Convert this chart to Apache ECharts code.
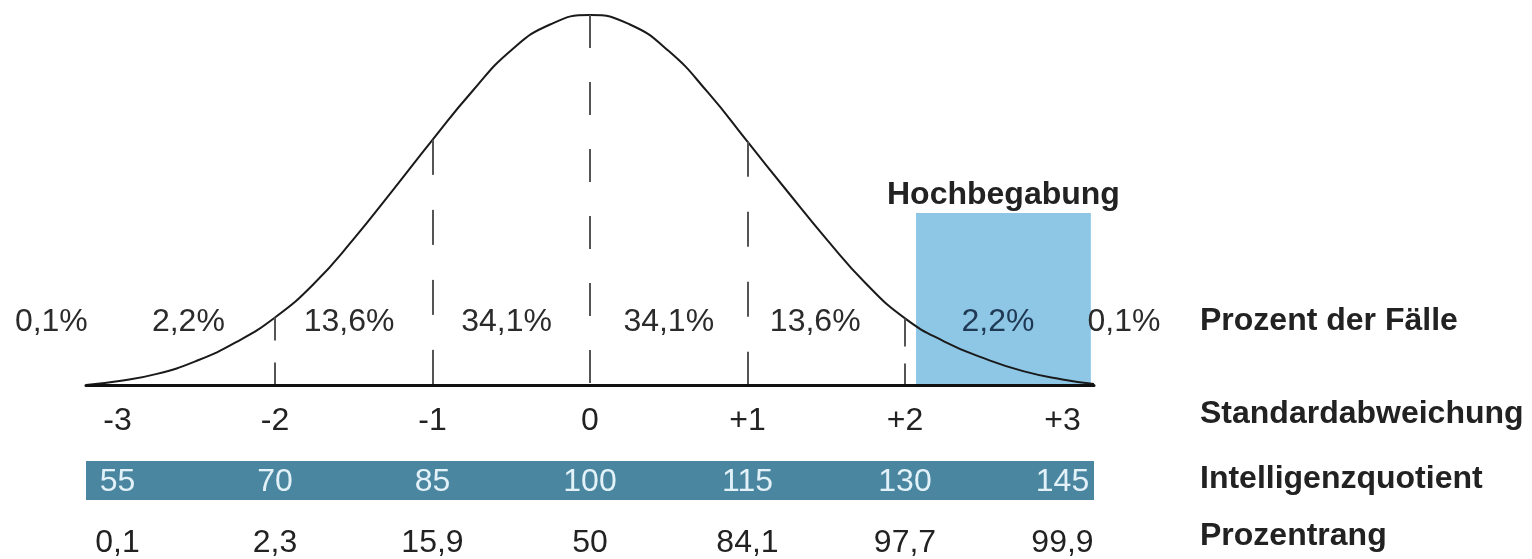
<!DOCTYPE html>
<html>
<head>
<meta charset="utf-8">
<script src="https://cdn.jsdelivr.net/npm/echarts@6/dist/echarts.min.js"></script>
<style>
  html, body { margin: 0; padding: 0; background: #ffffff; }
  #chart { width: 1532px; height: 559px; }
</style>
</head>
<body>
<div id="chart"></div>
<script>
// ---- data ----
const curveSd = [-3.2, -3.0, -2.75, -2.5, -2.25, -2.0, -1.75, -1.5, -1.25, -1.0, -0.75, -0.5, -0.25, 0,
                 0.25, 0.5, 0.75, 1.0, 1.25, 1.5, 1.75, 2.0, 2.25, 2.5, 2.75, 3.0, 3.2];
const curveDensity = [0, 0.004, 0.012, 0.026, 0.046, 0.073, 0.110, 0.158, 0.211, 0.265, 0.317, 0.362, 0.390, 0.400,
                      0.390, 0.361, 0.316, 0.263, 0.210, 0.158, 0.110, 0.072, 0.047, 0.029, 0.015, 0.006, 0.001];
const sdTicks = [-3, -2, -1, 0, 1, 2, 3];
const sdLabels = ['-3', '-2', '-1', '0', '+1', '+2', '+3'];
const iqValues = [55, 70, 85, 100, 115, 130, 145];
const prLabels = ['0,1', '2,3', '15,9', '50', '84,1', '97,7', '99,9'];
const pctLabels = ['0,1%', '2,2%', '13,6%', '34,1%', '34,1%', '13,6%', '2,2%', '0,1%'];
const pctPos = [-3.42, -2.55, -1.53, -0.53, 0.5, 1.43, 2.59, 3.39];
const pctLevel = 0.068;
const dashAt = [-2, -1, 0, 1, 2];
const gifted = { name: 'Hochbegabung', from: 2.07, to: 3.18, top: 0.186 };
const rowNames = ['Prozent der Fälle', 'Standardabweichung', 'Intelligenzquotient', 'Prozentrang'];

// ---- build ----
const FONT = "'Liberation Sans', Arial, sans-serif";
const FS = 32;
const curve = curveSd.map((x, i) => [x, curveDensity[i]]);
function densityAt(x) { return curveDensity[curveSd.indexOf(x)]; }
const dashPatterns = { '-2': [23, 22], '-1': [35, 35], '0': [33, 34], '1': [35, 35], '2': [28, 17] };
const rowTops = [305, 398, 463, 520];

const chart = echarts.init(document.getElementById('chart'), null, { renderer: 'canvas' });

const option = {
  backgroundColor: '#ffffff',
  animation: false,
  grid: [
    { left: 86, width: 1008, top: 15, height: 370 },
    { left: 86, width: 1008, top: 461, height: 39, show: true, backgroundColor: '#4a86a0', borderWidth: 0 }
  ],
  xAxis: [
    {
      gridIndex: 0, type: 'value', min: -3.2, max: 3.2, z: 5,
      axisLine: { show: true, lineStyle: { color: '#111', width: 3 } },
      axisTick: { show: false }, splitLine: { show: false },
      axisLabel: {
        customValues: sdTicks, margin: 20, fontSize: FS, fontFamily: FONT, color: '#222',
        formatter: v => sdLabels[sdTicks.indexOf(v)]
      }
    },
    {
      gridIndex: 1, type: 'value', min: 52, max: 148, position: 'bottom', offset: 0,
      axisLine: { show: false }, axisTick: { show: false }, splitLine: { show: false },
      axisLabel: {
        inside: true, customValues: iqValues, margin: 2, fontSize: FS, fontFamily: FONT, color: '#e3f2f9',
        formatter: v => String(v)
      }
    },
    {
      gridIndex: 1, type: 'value', min: 52, max: 148, position: 'bottom', offset: 0,
      axisLine: { show: false }, axisTick: { show: false }, splitLine: { show: false },
      axisLabel: {
        customValues: iqValues, margin: 27, fontSize: FS, fontFamily: FONT, color: '#222',
        formatter: v => prLabels[iqValues.indexOf(v)]
      }
    }
  ],
  yAxis: [
    { gridIndex: 0, type: 'value', min: 0, max: 0.4, show: false },
    { gridIndex: 1, type: 'value', min: 0, max: 1, show: false }
  ],
  series: [
    {
      type: 'line', xAxisIndex: 0, yAxisIndex: 0, data: [], z: 1, silent: true,
      markArea: {
        silent: true,
        itemStyle: { color: '#8ec7e6' },
        label: {
          show: true, position: 'top', distance: 2, fontSize: FS, fontWeight: 'bold',
          fontFamily: FONT, color: '#222'
        },
        data: [[{ name: gifted.name, coord: [gifted.from, 0] }, { coord: [gifted.to, gifted.top] }]]
      }
    },
    {
      type: 'line', xAxisIndex: 0, yAxisIndex: 0, z: 3,
      data: curve, smooth: true, showSymbol: false, symbol: 'none',
      lineStyle: { color: '#1a1a1a', width: 2 },
      markLine: {
        silent: true, symbol: ['none', 'none'], label: { show: false },
        data: dashAt.map(x => [
          { coord: [x, densityAt(x)], lineStyle: { color: '#555', width: 2, type: dashPatterns[String(x)] } },
          { coord: [x, 0] }
        ])
      }
    },
    {
      type: 'scatter', xAxisIndex: 0, yAxisIndex: 0, z: 4, clip: false, symbolSize: 0,
      itemStyle: { opacity: 1 },
      data: pctLabels.map((t, i) => ({
        value: [pctPos[i], pctLevel], name: t,
        label: { color: (pctPos[i] > gifted.from && pctPos[i] < gifted.to) ? '#1f3853' : '#2b2b2b' }
      })),
      label: {
        show: true, position: 'inside', fontSize: FS, fontFamily: FONT, color: '#2b2b2b', opacity: 1,
        formatter: p => p.name
      }
    }
  ],
  graphic: rowNames.map((t, i) => ({
    type: 'text', left: 1200, top: rowTops[i],
    style: { text: t, font: "bold 32px 'Liberation Sans', Arial, sans-serif", fill: '#222' }
  }))
};

chart.setOption(option);
</script>
</body>
</html>
